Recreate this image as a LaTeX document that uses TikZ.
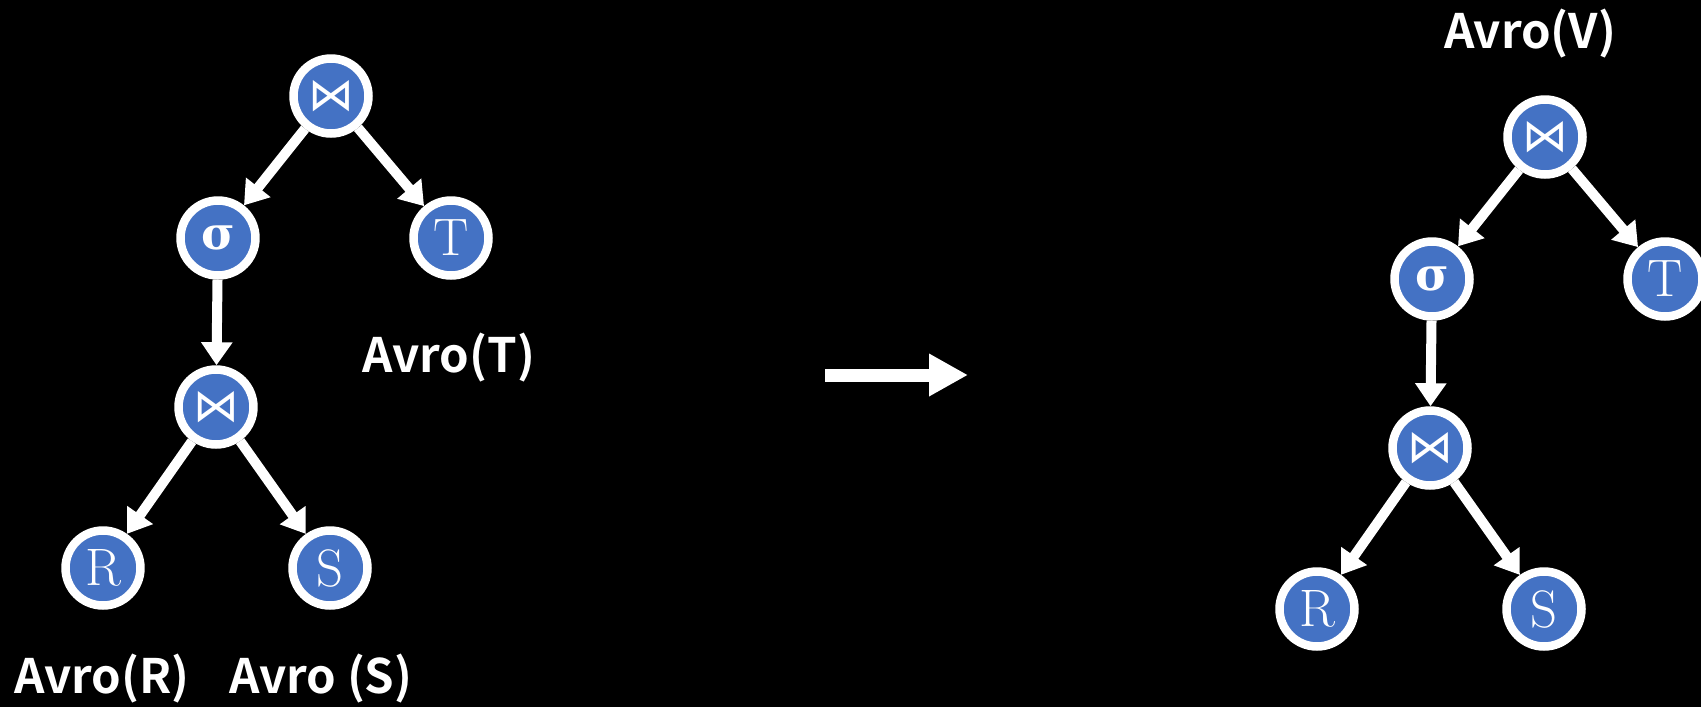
\RequirePackage{fix-cm}
\documentclass[tikz,border=0pt]{standalone}
\usepackage{fontspec}
\newfontfamily\avrofont{Noto Sans CJK SC}[BoldFont={Noto Sans CJK SC Bold}]
\newfontfamily\opfont{DejaVu Sans}
\newfontfamily\greekfont{DejaVu Serif}
\usepackage{tikz}
\usetikzlibrary{arrows.meta}
\definecolor{opblue}{HTML}{4472C4}
\tikzstyle{opvertex}=[circle,fill=opblue,draw=white,line width=0.17cm,minimum size=1.5cm,inner sep=0pt,text=white,font={\fontsize{30}{32}\selectfont}]
\tikzstyle{edge} = [draw,white,line width=0.2cm,-{Triangle[length=0.46cm,width=0.6cm]}]
\tikzstyle{avro} = [text=white,anchor=base,inner sep=0pt,font={\avrofont\bfseries\fontsize{27}{30}\selectfont}]
\newcommand{\joinop}{{\opfont\fontsize{26}{28}\selectfont ⋈}}
\newcommand{\selop}{{\greekfont\bfseries\fontsize{26}{28}\selectfont σ}}

\begin{document}
\begin{tikzpicture}[x=0.02cm,y=-0.02cm]
    \fill[black] (0,0) rectangle (1701,707);
    \useasboundingbox (0,0) rectangle (1701,707);

    % plan before the rewrite
    \def\dx{0};
    \def\dy{0};
    \def\tr{L};
    \foreach \name/\x/\y/\op in { J1/331/96/\joinop, Sel/218/238/\selop, T/451/238/T, J2/216/407/\joinop, R/103/568/R, S/330/568/S }
        \node[opvertex] (\tr\name) at (\x+\dx, \y+\dy) {\op};

    \foreach \source/\dest in {J1/Sel, J1/T, Sel/J2, J2/R, J2/S}
            \path[edge] (\tr\source) -- (\tr\dest);

    \node[avro] (lblR) at (102, 693) {Avro(R)};
    \node[avro] (lblS) at (321, 693) {Avro (S)};
    \node[avro] (lblT) at (449, 372) {Avro(T)};

    % rewrite arrow
    \coordinate (from) at (825, 375);
    \coordinate (to) at (968, 375);
    \draw[white, line width=0.26cm, -{Triangle[length=0.78cm,width=0.8cm]}] (from) -- (to);

    % plan after the rewrite
    \def\dx{1214};
    \def\dy{41};
    \def\tr{V};
    \foreach \name/\x/\y/\op in { J1/331/96/\joinop, Sel/218/238/\selop, T/451/238/T, J2/216/407/\joinop, R/103/568/R, S/330/568/S }
        \node[opvertex] (\tr\name) at (\x+\dx, \y+\dy) {\op};

    \foreach \source/\dest in {J1/Sel, J1/T, Sel/J2, J2/R, J2/S}
            \path[edge] (\tr\source) -- (\tr\dest);

    \node[avro] (lblV) at (1530, 48) {Avro(V)};

\end{tikzpicture}
\end{document}
